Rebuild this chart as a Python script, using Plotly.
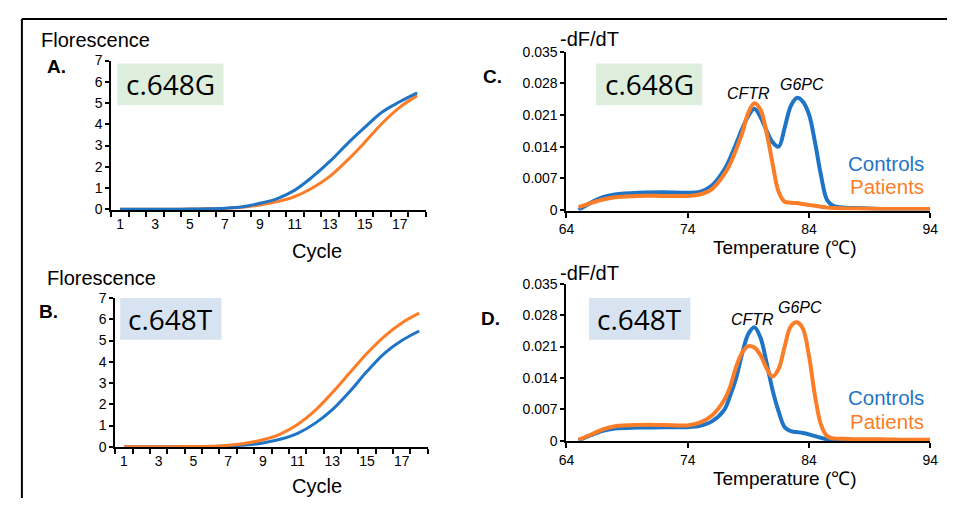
import plotly.graph_objects as go

# the page adds an 8 px body margin, so the figure is drawn 16 px smaller and offset by 8 px
OFF = 8
W, H = 955 - 2 * OFF, 506 - 2 * OFF
BLUE = "#1f74c6"
ORANGE = "#fb7d28"
FONT = "Liberation Sans"

# ---------------- data ----------------
cycles = list(range(1, 19))
cycle_ticks = [1, 3, 5, 7, 9, 11, 13, 15, 17]

a_controls = [0, 0, 0, 0, 0.01, 0.02, 0.05, 0.12, 0.28, 0.50, 0.90, 1.52, 2.25, 3.08, 3.85, 4.58, 5.06, 5.48]
a_patients = [0, 0, 0, 0, 0.01, 0.02, 0.04, 0.09, 0.20, 0.36, 0.60, 1.00, 1.55, 2.30, 3.15, 4.05, 4.80, 5.35]

b_controls = [0, 0, 0, 0, 0, 0.01, 0.03, 0.08, 0.18, 0.35, 0.63, 1.10, 1.75, 2.60, 3.55, 4.40, 5.00, 5.45]
b_patients = [0, 0, 0, 0, 0.01, 0.02, 0.07, 0.16, 0.33, 0.60, 1.05, 1.70, 2.55, 3.48, 4.40, 5.20, 5.83, 6.29]

temps = [65, 66, 67, 68, 70, 72, 74, 75, 76, 77, 77.5, 78, 78.5, 79, 79.5, 80, 80.5,
         81, 81.5, 82, 82.5, 83, 83.5, 84, 84.5, 85, 85.5, 86, 87, 88, 90, 92, 94]

c_controls = [0.0000, 0.0016, 0.0028, 0.0034, 0.0038, 0.0039, 0.0038, 0.0040, 0.0054, 0.0088,
              0.0115, 0.0147, 0.0180, 0.0208, 0.0224, 0.0206, 0.0176, 0.0150, 0.0140, 0.0182,
              0.0230, 0.0248, 0.0240, 0.0212, 0.0150, 0.0076, 0.0022, 0.0009, 0.0005, 0.0004,
              0.0002, 0.0001, 0.0001]
c_patients = [0.0006, 0.0015, 0.0023, 0.0028, 0.0031, 0.0031, 0.0031, 0.0034, 0.0046, 0.0078,
              0.0102, 0.0134, 0.0170, 0.0215, 0.0236, 0.0222, 0.0172, 0.0103, 0.0040, 0.0018,
              0.0016, 0.0015, 0.0013, 0.0011, 0.0009, 0.0007, 0.0005, 0.0004, 0.0003, 0.0003,
              0.0002, 0.0002, 0.0002]

d_controls = [0.0000, 0.0012, 0.0022, 0.0027, 0.0029, 0.0030, 0.0030, 0.0033, 0.0043, 0.0068,
              0.0100, 0.0140, 0.0195, 0.0238, 0.0253, 0.0230, 0.0175, 0.0113, 0.0065, 0.0030,
              0.0021, 0.0019, 0.0017, 0.0014, 0.0010, 0.0006, 0.0003, 0.0002, 0.0001, 0.0001,
              0.0001, 0.0001, 0.0001]
d_patients = [0.0002, 0.0013, 0.0025, 0.0032, 0.0035, 0.0035, 0.0034, 0.0040, 0.0056, 0.0090,
              0.0120, 0.0165, 0.0197, 0.0211, 0.0208, 0.0191, 0.0162, 0.0143, 0.0160, 0.0210,
              0.0255, 0.0264, 0.0250, 0.0190, 0.0100, 0.0035, 0.0010, 0.0005, 0.0004, 0.0003,
              0.0003, 0.0002, 0.0002]

temp_ticks = [64, 74, 84, 94]
dfdt_ticks = [0, 0.007, 0.014, 0.021, 0.028, 0.035]
dfdt_labels = ["0", "0.007", "0.014", "0.021", "0.028", "0.035"]

# ---------------- layout helpers (screen pixels -> paper fractions) ----------------
def X(px):
    return (px - OFF) / W

def Y(py):
    return 1 - (py - OFF) / H

fig = go.Figure()

def line(x, y, color, xa, ya, width):
    fig.add_trace(go.Scatter(x=x, y=y, mode="lines", line=dict(color=color, width=width, shape="spline", smoothing=1.0),
                             xaxis=xa, yaxis=ya, showlegend=False, hoverinfo="skip"))

line(cycles, a_patients, ORANGE, "x", "y", 3)
line(cycles, a_controls, BLUE, "x", "y", 3)
line(cycles, b_controls, BLUE, "x2", "y2", 3)
line(cycles, b_patients, ORANGE, "x2", "y2", 3)
line(temps, c_controls, BLUE, "x3", "y3", 4)
line(temps, c_patients, ORANGE, "x3", "y3", 4)
line(temps, d_controls, BLUE, "x4", "y4", 4)
line(temps, d_patients, ORANGE, "x4", "y4", 4)

tickfont = dict(family=FONT, size=14, color="black")
common = dict(showline=True, linecolor="black", linewidth=2, showgrid=False, zeroline=False,
              ticks="outside", tickcolor="black", ticklen=4, tickwidth=1.5, tickfont=tickfont)

def cyc_axis(x0, x1, anchor):
    return dict(domain=[X(x0), X(x1)], range=[0.5, 18.5], tickmode="array", tickvals=cycle_ticks,
                anchor=anchor, **{**common, "ticks": ""},
                minor=dict(tickmode="array", tickvals=[i + 0.5 for i in range(0, 19)], ticks="outside",
                           ticklen=5, tickcolor="black", tickwidth=1.5, showgrid=False))

def fl_axis(y0, y1, anchor):
    return dict(domain=[Y(y1), Y(y0)], range=[-0.03, 7], tickmode="array", tickvals=list(range(0, 8)),
                anchor=anchor, **common)

def t_axis(anchor):
    return dict(domain=[X(568), X(938)], range=[64, 94], tickmode="array", tickvals=temp_ticks,
                anchor=anchor, **{**common, "ticklen": 5})

def d_axis(y0, y1, anchor):
    return dict(domain=[Y(y1), Y(y0)], range=[-0.00015, 0.035], tickmode="array", tickvals=dfdt_ticks,
                ticktext=dfdt_labels, anchor=anchor, **common)

fig.update_layout(
    width=W, height=H, margin=dict(l=0, r=0, t=0, b=0),
    paper_bgcolor="white", plot_bgcolor="white",
    xaxis=cyc_axis(105, 425, "y"), yaxis=fl_axis(54, 208, "x"),
    xaxis2=cyc_axis(109, 427, "y2"), yaxis2=fl_axis(299, 453, "x2"),
    xaxis3=t_axis("y3"), yaxis3=d_axis(45, 208.7, "x3"),
    xaxis4=t_axis("y4"), yaxis4=d_axis(284.3, 446.7, "x4"),
)

shapes = [
    dict(type="line", xref="paper", yref="paper", x0=X(14), x1=X(960), y0=Y(11), y1=Y(11),
         line=dict(color="black", width=2)),
    dict(type="line", xref="paper", yref="paper", x0=X(14), x1=X(14), y0=Y(11), y1=Y(510),
         line=dict(color="black", width=2)),
]
boxes = [((111, 57, 219, 100), "#ddeedd", "c.648G"),
         ((114, 299, 217, 342), "#d7e3f1", "c.648T"),
         ((598, 57, 706, 100), "#ddeedd", "c.648G"),
         ((591, 299, 694, 342), "#d7e3f1", "c.648T")]
annotations = []
for (x0, y0, x1, y1), col, txt in boxes:
    shapes.append(dict(type="rect", xref="paper", yref="paper", x0=X(x0), x1=X(x1), y0=Y(y1), y1=Y(y0),
                       fillcolor=col, line=dict(width=0), layer="below"))
    annotations.append(dict(text=txt, x=X((x0 + x1) / 2), y=Y((y0 + y1) / 2), xref="paper", yref="paper",
                            showarrow=False, xanchor="center", yanchor="middle",
                            font=dict(family="Open Sans", size=28, color="black")))

def ann(text, x, y, size, xanchor="left", color="black", family=FONT):
    annotations.append(dict(text=text, x=X(x), y=Y(y), xref="paper", yref="paper", showarrow=False,
                            xanchor=xanchor, yanchor="middle", font=dict(family=family, size=size, color=color)))

ann("Florescence", 31, 33, 20)
ann("<b>A.</b>", 37, 60, 19)
ann("Cycle", 314, 250, 20, "center")
ann("Florescence", 38, 278, 20)
ann("<b>B.</b>", 29, 313, 19)
ann("Cycle", 314, 493, 20, "center")
ann("-dF/dT", 559, 32, 20)
ann("<b>C.</b>", 481, 70, 19)
ann("Temperature (℃)", 790, 247, 19, "center")
ann("-dF/dT", 559, 273, 20)
ann("<b>D.</b>", 479, 320, 19)
ann("Temperature (℃)", 790, 485, 19, "center")
ann("Controls", 934, 160, 20.5, "right", BLUE)
ann("Patients", 934, 184, 20.5, "right", ORANGE)
ann("Controls", 934, 402, 20.5, "right", BLUE)
ann("Patients", 934, 426, 20.5, "right", ORANGE)
ann("<i>CFTR</i>", 753, 88, 16, "center")
ann("<i>G6PC</i>", 808, 79, 16, "center")
ann("<i>CFTR</i>", 757, 321, 16, "center")
ann("<i>G6PC</i>", 806, 309, 16, "center")

fig.update_layout(shapes=shapes, annotations=annotations)
fig.write_html("out.html", config={"displayModeBar": False})
